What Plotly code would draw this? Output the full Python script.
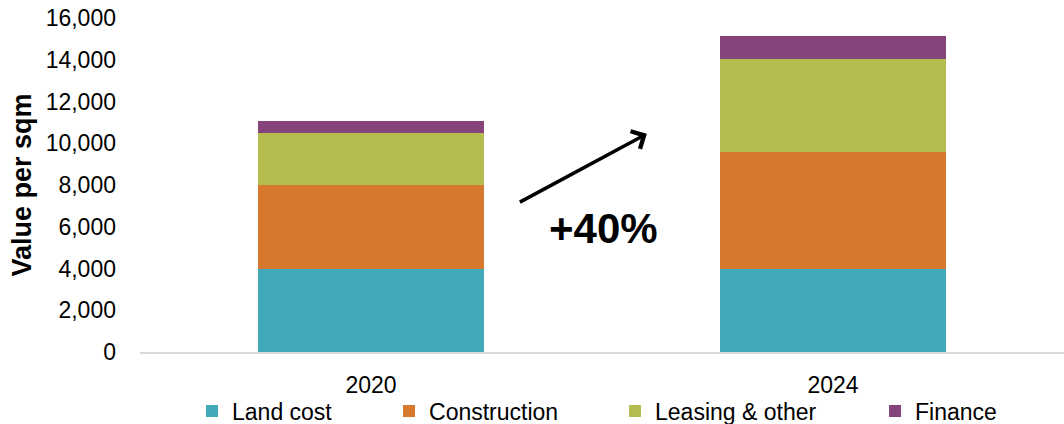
import plotly.graph_objects as go

years = ["2020", "2024"]
land_cost = [4000, 4000]
construction = [4000, 5600]
leasing_other = [2500, 4450]
finance = [550, 1100]
series_names = ["Land cost", "Construction", "Leasing & other", "Finance"]
series_values = [land_cost, construction, leasing_other, finance]
colors = ["#41A9B8", "#D6792F", "#B5BC50", "#86457A"]
y_ticks = [0, 2000, 4000, 6000, 8000, 10000, 12000, 14000, 16000]
growth_label = "+40%"

legend_ids = ["legend", "legend2", "legend3", "legend4"]
legend_x = [0.0563, 0.2695, 0.5141, 0.7955]

fig = go.Figure()
for name, vals, col, lid in zip(series_names, series_values, colors, legend_ids):
    fig.add_trace(go.Bar(x=years, y=vals, name=name, legend=lid,
                         marker=dict(color=col, line=dict(width=0))))

font_family = "Liberation Sans, Arial, sans-serif"
layout_legends = {}
for lid, lx in zip(legend_ids, legend_x):
    layout_legends[lid] = dict(orientation="h", x=lx, xanchor="left", y=-0.177, yanchor="middle",
                               font=dict(size=23), bgcolor="rgba(0,0,0,0)", itemwidth=30)

fig.update_layout(
    barmode="stack",
    bargap=0.51,
    width=1064, height=424,
    margin=dict(l=140, r=0, t=18, b=72, autoexpand=False),
    plot_bgcolor="white", paper_bgcolor="white",
    font=dict(family=font_family, size=23, color="#000000"),
    showlegend=True,
    **layout_legends,
)
fig.update_yaxes(range=[0, 16000], tickvals=y_ticks, tickformat=",d", showgrid=False,
                 zeroline=False, showline=False, ticklabelstandoff=23, automargin=False,
                 ticklabeloverflow="allow",
                 title=dict(text="<b>Value per sqm</b>", font=dict(size=27), standoff=6))
fig.update_xaxes(type="category", range=[-0.5, 1.5], showline=True, linecolor="#D9D9D9", linewidth=2,
                 showgrid=False, ticks="", ticklabelstandoff=11, automargin=False)

fig.add_annotation(x=0.597, y=10450, ax=0.319, ay=7140, xref="x", yref="y", axref="x", ayref="y",
                   text="", showarrow=True, arrowhead=4, arrowsize=1.1, arrowwidth=3.5, arrowcolor="#000000")
fig.add_annotation(x=0.504, y=5900, xref="x", yref="y", text="<b>" + growth_label + "</b>",
                   showarrow=False, font=dict(size=42, color="#000000"))

# remove the default page margin so the figure fills the window exactly
fig.write_html("out.html", config={"displayModeBar": False},
               post_script="document.body.style.margin='0px';")
